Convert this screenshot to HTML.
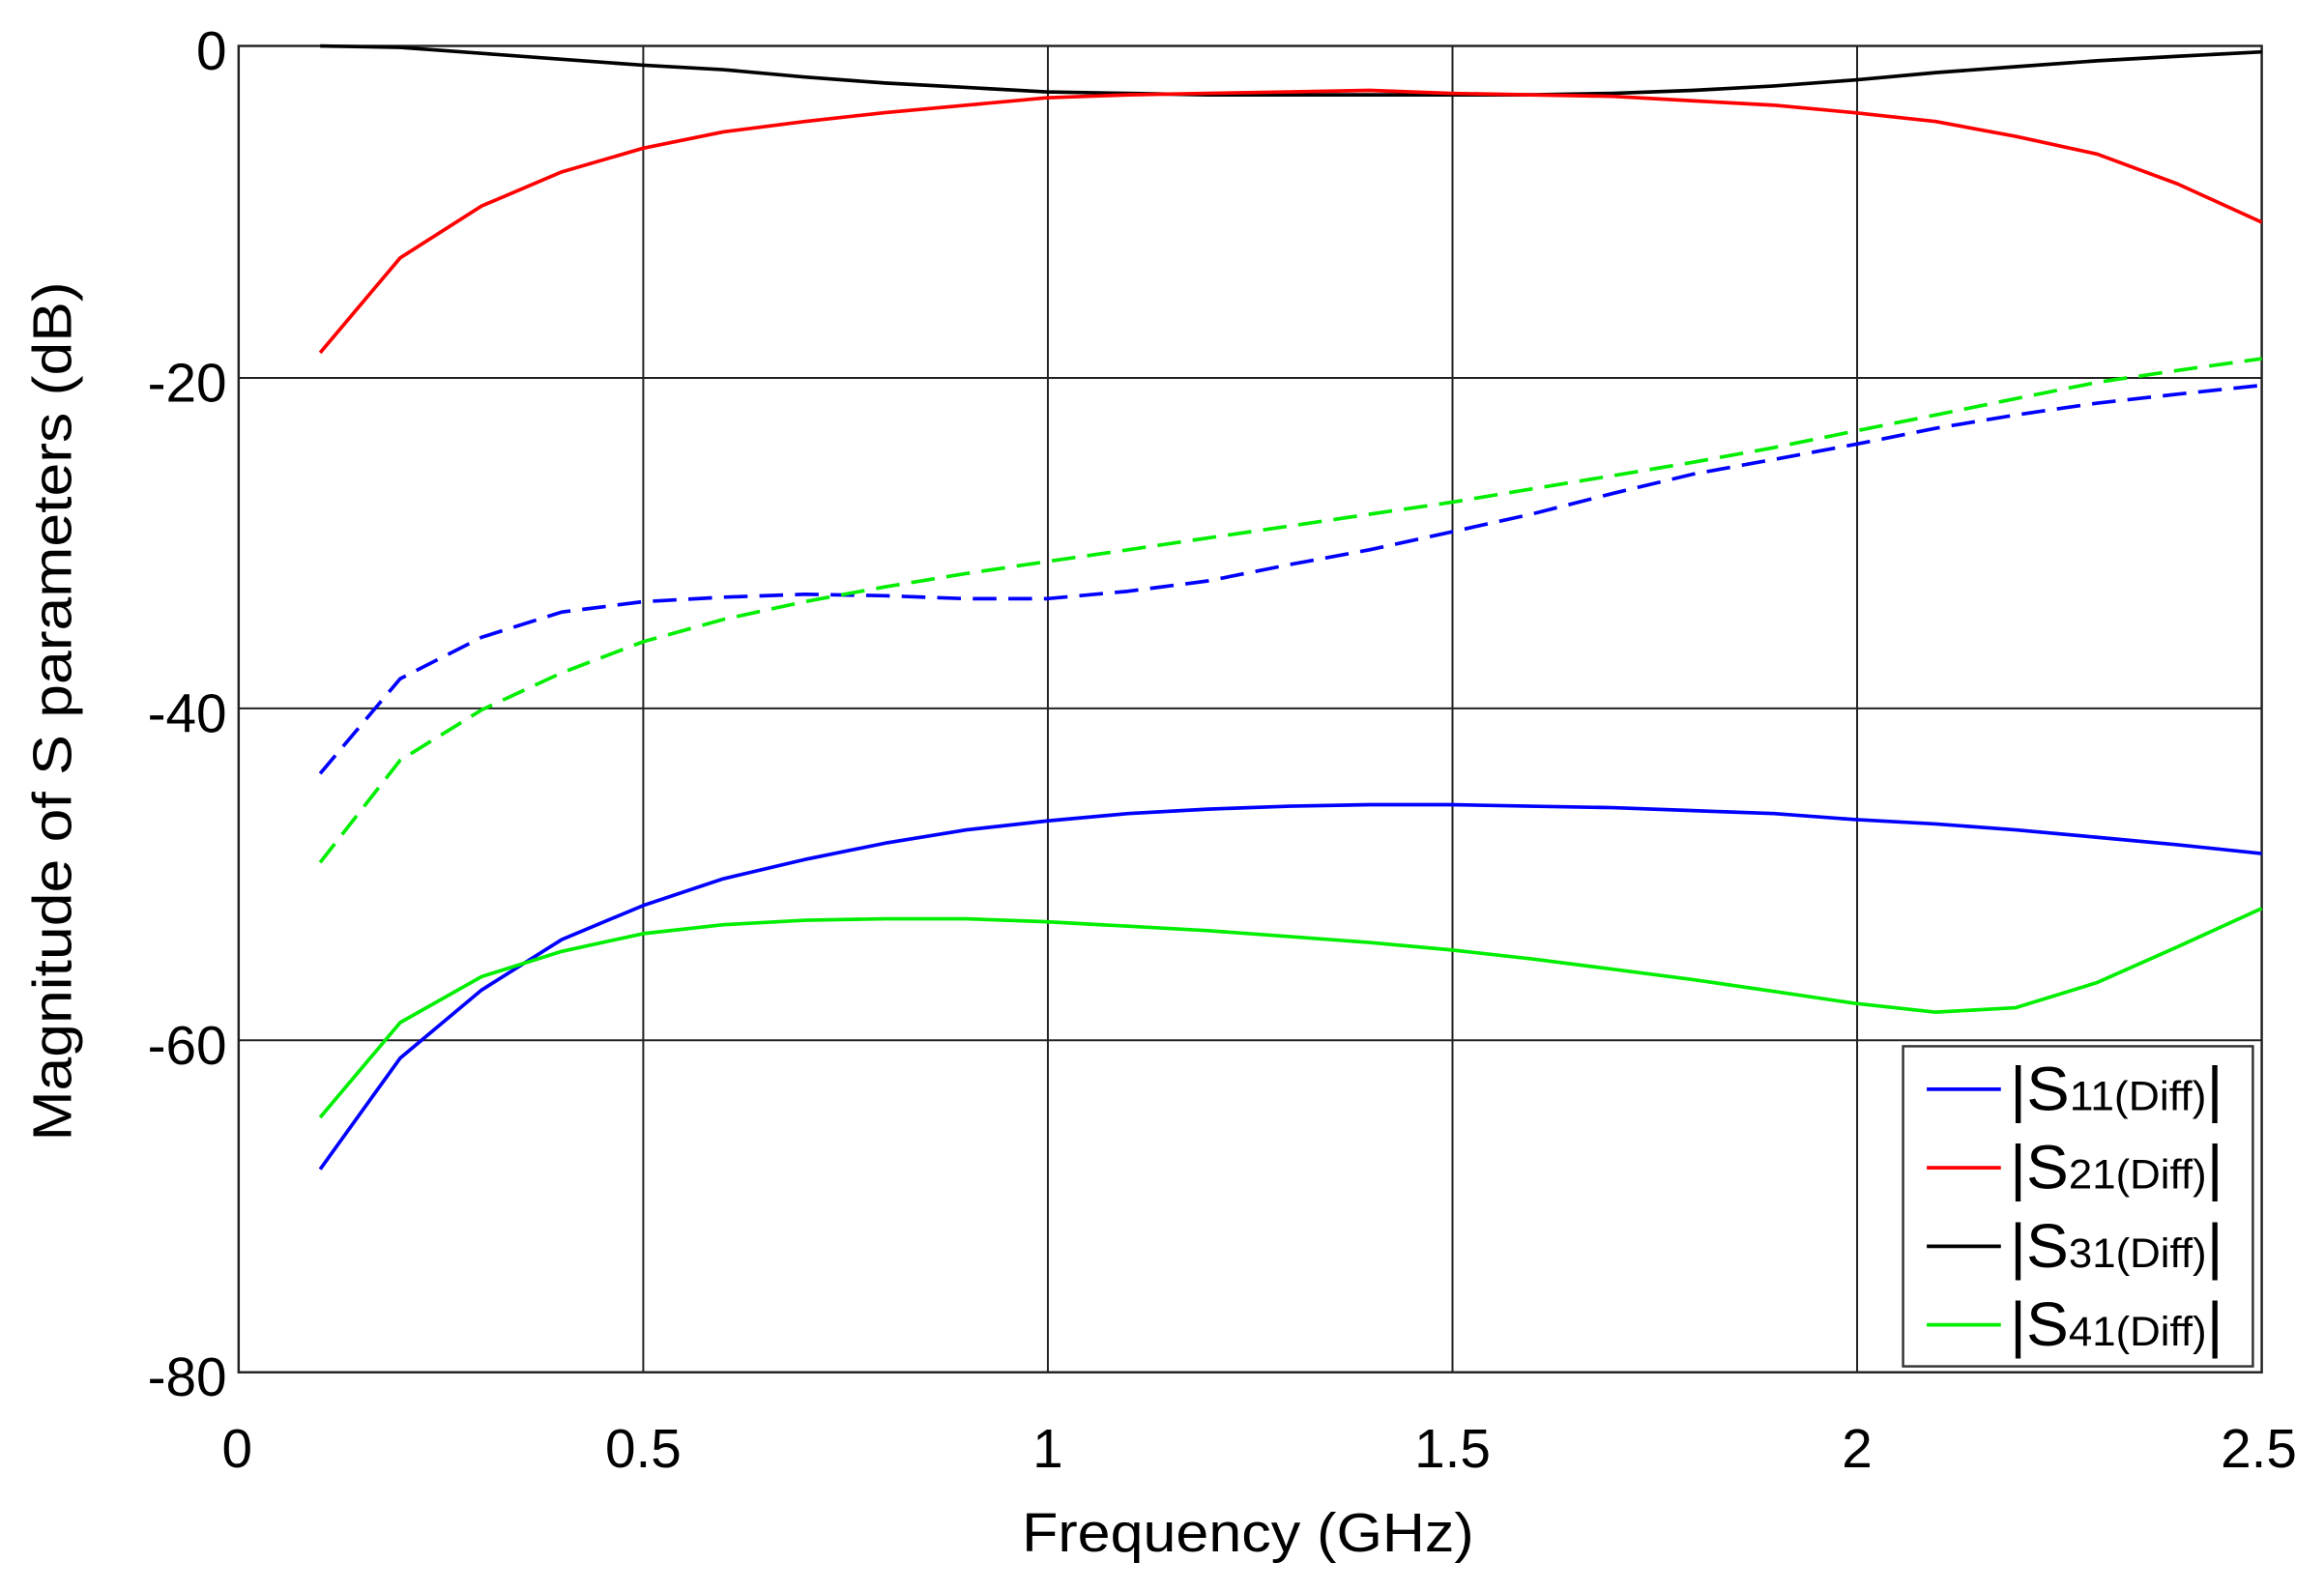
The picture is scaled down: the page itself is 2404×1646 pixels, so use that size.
<!DOCTYPE html>
<html><head><style>html,body{margin:0;padding:0;background:#fff}svg{display:block}</style></head>
<body>
<svg width="2404" height="1646" viewBox="0 0 1568 1073.6" xmlns="http://www.w3.org/2000/svg" font-family="Liberation Sans, Arial, sans-serif">
<rect width="1568" height="1074" fill="#fff"/>
<g stroke="#222" stroke-width="1.3" fill="none">
<line x1="434" y1="31" x2="434" y2="926"/><line x1="707" y1="31" x2="707" y2="926"/>
<line x1="980" y1="31" x2="980" y2="926"/><line x1="1253" y1="31" x2="1253" y2="926"/>
<line x1="161" y1="255" x2="1526" y2="255"/><line x1="161" y1="478" x2="1526" y2="478"/>
<line x1="161" y1="702" x2="1526" y2="702"/>
<rect x="161" y="31" width="1365" height="895" stroke-width="1.6"/>
</g>
<g fill="none" stroke-width="2.4" stroke-linejoin="round">
<polyline stroke="#000" points="216,31 270,32 325,36 379,40 434,44 488,47 543,52 597,56 652,59 706,62 761,63 815,64 870,64 924,64 979,64 1033,64 1088,63 1142,61 1197,58 1251,54 1306,49 1360,45 1415,41 1469,38 1526,35"/>
<polyline stroke="#f00" points="216,238 270,174 325,139 379,116 434,100 488,89 543,82 597,76 652,71 706,66 761,64 815,63 870,62 924,61 979,63 1033,64 1088,65 1142,68 1197,71 1251,76 1306,82 1360,92 1415,104 1469,124 1526,150"/>
<polyline stroke="#00f" stroke-dasharray="16,8" points="216,522 270,458 325,430 379,413 434,406 488,403 543,401 597,402 652,404 706,404 761,399 815,392 870,381 924,371 979,359 1033,347 1088,333 1142,320 1197,310 1251,300 1306,289 1360,280 1415,272 1469,266 1526,260"/>
<polyline stroke="#0e0" stroke-dasharray="16,8" points="216,582 270,513 325,479 379,454 434,433 488,418 543,406 597,396 652,387 706,379 761,371 815,363 870,355 924,347 979,339 1033,330 1088,321 1142,312 1197,302 1251,291 1306,280 1360,269 1415,258 1469,250 1526,242"/>
<polyline stroke="#00f" points="216,789 270,714 325,668 379,634 434,611 488,593 543,580 597,569 652,560 706,554 761,549 815,546 870,544 924,543 979,543 1033,544 1088,545 1142,547 1197,549 1251,553 1306,556 1360,560 1415,565 1469,570 1526,576"/>
<polyline stroke="#0e0" points="216,754 270,690 325,659 379,642 434,630 488,624 543,621 597,620 652,620 706,622 761,625 815,628 870,632 924,636 979,641 1033,647 1088,654 1142,661 1197,669 1251,677 1306,683 1360,680 1415,663 1469,639 1526,613"/>
</g>
<rect x="1284" y="706" width="236" height="216" fill="#fff" stroke="#333" stroke-width="1.6"/>
<g stroke-width="2.4">
<line x1="1300" y1="735" x2="1350" y2="735" stroke="#00f"/>
<line x1="1300" y1="788" x2="1350" y2="788" stroke="#f00"/>
<line x1="1300" y1="841" x2="1350" y2="841" stroke="#000"/>
<line x1="1300" y1="894" x2="1350" y2="894" stroke="#0e0"/>
</g>
<g font-size="42" fill="#000">
<text x="1356" y="749" textLength="144" lengthAdjust="spacingAndGlyphs">|S<tspan font-size="28">11(Diff)</tspan>|</text>
<text x="1356" y="802" textLength="144" lengthAdjust="spacingAndGlyphs">|S<tspan font-size="28">21(Diff)</tspan>|</text>
<text x="1356" y="855" textLength="144" lengthAdjust="spacingAndGlyphs">|S<tspan font-size="28">31(Diff)</tspan>|</text>
<text x="1356" y="908" textLength="144" lengthAdjust="spacingAndGlyphs">|S<tspan font-size="28">41(Diff)</tspan>|</text>
</g>
<g font-size="37" fill="#000" text-anchor="end">
<text x="153" y="47">0</text><text x="153" y="271">-20</text><text x="153" y="494">-40</text>
<text x="153" y="718">-60</text><text x="153" y="942">-80</text>
</g>
<g font-size="37" fill="#000" text-anchor="middle">
<text x="160" y="990">0</text><text x="434" y="990">0.5</text><text x="707" y="990">1</text>
<text x="980" y="990">1.5</text><text x="1253" y="990">2</text><text x="1524" y="990">2.5</text>
</g>
<text x="842" y="1047" font-size="37" text-anchor="middle" textLength="305" lengthAdjust="spacingAndGlyphs">Frequency (GHz)</text>
<text transform="translate(48,480) rotate(-90)" font-size="37" text-anchor="middle" textLength="580" lengthAdjust="spacingAndGlyphs">Magnitude of S parameters (dB)</text>
</svg>
</body></html>
